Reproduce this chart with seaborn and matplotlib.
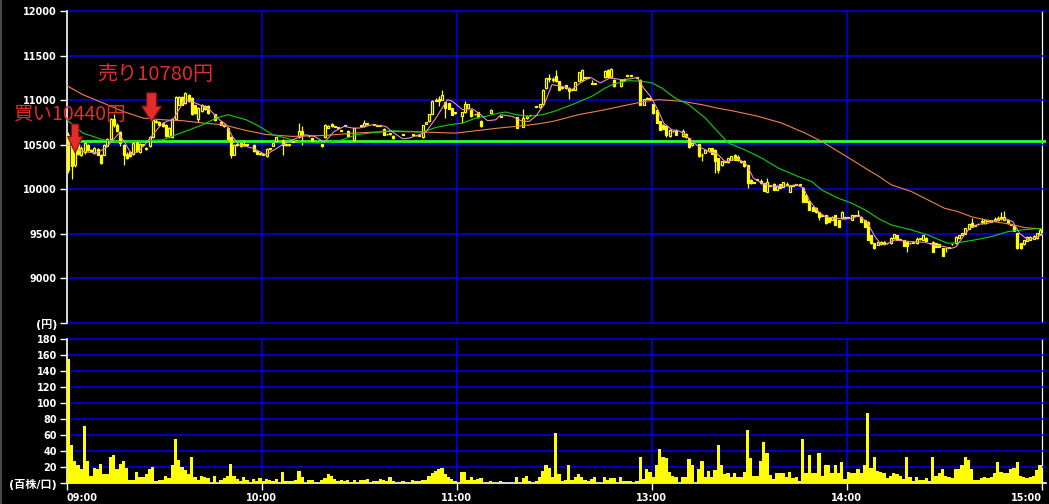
import numpy as np
import pandas as pd
import matplotlib
matplotlib.use('Agg')
import matplotlib.pyplot as plt
from matplotlib.lines import Line2D
import seaborn as sns

# 1-minute bars: index 0 = 09:00, 150 = 12:30 (lunch break removed), 299 = 14:59
opens = [
    10610, 10500, 10270, 10520, 10390, 10420, 10500, 10440, 10410, 10450,
    10390, 10390, 10490, 10560, 10790, 10720, 10640, 10500, 10400, 10420,
    10400, 10530, 10420, 10500, 10450, 10480, 10590, 10760, 10760, 10740,
    10720, 10600, 10590, 10790, 10950, 11040, 10970, 11060, 11020, 10940,
    10790, 10880, 10930, 10930, None, 10840, None, 10760, 10720, 10690,
    10590, 10390, 10500, 10520, 10500, 10505, None, 10500, 10425, 10400,
    10400, 10370, 10450, 10490, 10537, None, 10555, 10505, 10495, 10530,
    10540, 10582, 10649, None, 10593, 10574, None, None, 10507, 10582,
    10690, 10730, 10700, 10690, 10657, 10712, 10657, None, 10555, None,
    10717, 10705, 10730, None, 10724, 10712, 10710, 10679, 10615, 10619,
    10600, None, None, 10612, None, None, 10619, 10605, 10600, 10582,
    10732, 10762, 10844, 10990, 11013, 11005, 10975, 10968, 10912, 10855,
    None, 10818, 10867, 10912, 10893, 10840, 10867, 10769, None, None,
    10855, None, None, 10814, None, None, None, None, 10807, None,
    10699, 10800, 10829, None, 10927, 10920, 10957, 11136, 11240, 11240,
    11268, 11211, 11136, 11166, 11140, 11118, 11118, 11219, 11230, 11249,
    11250, 11181, 11185, None, None, 11256, 11343, 11256, 11230, None,
    11155, 11230, 11275, 11275, None, 11249, 11230, 10949, 11013, 11024,
    10957, 10893, 10762, 10724, 10712, 10593, 10650, 10668, None, 10593,
    10623, 10574, 10492, None, 10507, 10390, 10406, 10424, 10462, 10440,
    10349, 10267, 10310, 10304, 10331, 10387, 10360, 10319, 10319, 10274,
    10106, 10076, 10106, 10090, 10068, 9975, 10038, 10061, 9993, 10057,
    10031, 10050, 9975, 10042, 10050, 10050, 10020, 9937, 9873, 9806,
    9795, 9742, 9700, 9712, 9682, 9656, 9712, 9656, 9675, 9675,
    9682, 9656, 9700, 9701, 9693, 9656, 9637, 9487, 9394, 9375,
    9382, 9412, 9394, 9394, 9450, 9487, 9431, 9431, 9412, 9394,
    9400, 9394, 9440, 9431, 9457, 9394, 9412, 9394, 9382, 9337,
    9337, 9340, 9382, 9394, 9457, 9487, 9499, 9555, 9618, 9589,
    9607, 9637, 9618, 9648, 9637, 9667, 9650, 9682, 9656, 9656,
    9600, 9589, 9506, 9394, 9382, 9420, 9431, 9442, 9450, 9499,
]
highs = [
    10640, 10520, 10600, 10560, 10480, 10530, 10510, 10450, 10470, 10460,
    10400, 10510, 10570, 10800, 10850, 10740, 10650, 10510, 10420, 10430,
    10530, 10540, 10520, 10510, 10470, 10600, 10790, 10790, 10770, 10750,
    10730, 10700, 10800, 11050, 11050, 11050, 11090, 11070, 11030, 10950,
    10920, 10960, 10940, 10940, None, 10850, None, 10770, 10730, 10700,
    10600, 10510, 10520, 10530, 10555, 10510, None, 10510, 10430, 10410,
    10410, 10460, 10460, 10520, 10590, None, 10565, 10510, 10500, 10545,
    10545, 10745, 10705, None, 10600, 10580, None, None, 10510, 10730,
    10720, 10745, 10705, 10695, 10662, 10716, 10665, None, 10690, None,
    10720, 10773, 10735, None, 10728, 10716, 10714, 10685, 10620, 10625,
    10605, None, None, 10616, None, None, 10625, 10610, 10605, 10720,
    10760, 10850, 11000, 11024, 11043, 11118, 10980, 10972, 10915, 10860,
    None, 10865, 10994, 10960, 10897, 10845, 10870, 10772, None, None,
    10897, None, None, 10818, None, None, None, None, 10810, None,
    10900, 10830, 10833, None, 10931, 10960, 11120, 11250, 11298, 11260,
    11343, 11215, 11140, 11170, 11145, 11122, 11205, 11320, 11354, 11253,
    11254, 11230, 11190, None, None, 11335, 11348, 11358, 11235, None,
    11235, 11234, 11279, 11279, None, 11253, 11235, 11018, 11030, 11028,
    10962, 10897, 10766, 10728, 10716, 10672, 10655, 10672, None, 10679,
    10627, 10578, 10522, None, 10511, 10406, 10447, 10466, 10466, 10450,
    10353, 10316, 10314, 10353, 10372, 10391, 10387, 10323, 10323, 10278,
    10110, 10080, 10110, 10110, 10072, 10125, 10042, 10065, 10046, 10061,
    10084, 10080, 10046, 10046, 10054, 10054, 10024, 9941, 9877, 9810,
    9799, 9746, 9704, 9716, 9686, 9697, 9716, 9660, 9754, 9679,
    9686, 9716, 9704, 9768, 9697, 9660, 9641, 9491, 9398, 9409,
    9416, 9416, 9398, 9461, 9503, 9491, 9435, 9435, 9416, 9398,
    9404, 9469, 9444, 9491, 9461, 9398, 9416, 9398, 9386, 9341,
    9341, 9344, 9386, 9473, 9491, 9510, 9566, 9611, 9675, 9593,
    9611, 9675, 9660, 9652, 9660, 9693, 9700, 9750, 9757, 9660,
    9604, 9593, 9510, 9398, 9435, 9473, 9473, 9484, 9510, 9562,
]
lows = [
    10180, 10110, 10250, 10380, 10370, 10400, 10430, 10420, 10400, 10380,
    10280, 10380, 10480, 10550, 10700, 10640, 10480, 10270, 10340, 10360,
    10390, 10420, 10410, 10490, 10440, 10470, 10580, 10740, 10710, 10700,
    10590, 10570, 10570, 10780, 10940, 10940, 10960, 10980, 10830, 10850,
    10760, 10870, 10890, 10850, None, 10770, None, 10720, 10700, 10550,
    10350, 10380, 10480, 10470, 10480, 10490, None, 10420, 10395, 10390,
    10380, 10360, 10440, 10485, 10530, None, 10387, 10490, 10490, 10525,
    10535, 10575, 10500, None, 10588, 10540, None, None, 10478, 10575,
    10685, 10700, 10695, 10680, 10652, 10708, 10590, None, 10550, None,
    10700, 10700, 10725, None, 10720, 10708, 10706, 10610, 10610, 10612,
    10565, None, None, 10608, None, None, 10600, 10600, 10595, 10575,
    10728, 10755, 10840, 10985, 10930, 11000, 10799, 10900, 10835, 10850,
    None, 10743, 10860, 10908, 10815, 10835, 10805, 10700, None, None,
    10852, None, None, 10810, None, None, None, None, 10685, None,
    10695, 10790, 10825, None, 10923, 10915, 10950, 11130, 11200, 11200,
    11200, 11115, 11130, 11130, 11013, 11114, 11115, 11215, 11225, 11245,
    11246, 11177, 11180, None, None, 11250, 11250, 11252, 11150, None,
    11150, 11226, 11271, 11271, None, 11245, 10945, 10945, 11008, 11000,
    10850, 10740, 10664, 10675, 10582, 10589, 10645, 10608, None, 10589,
    10578, 10465, 10488, None, 10364, 10312, 10402, 10420, 10396, 10180,
    10181, 10263, 10306, 10300, 10327, 10327, 10320, 10300, 10252, 10020,
    10064, 10072, 10102, 10060, 9978, 9971, 10034, 9989, 9989, 10016,
    10027, 10040, 9971, 10036, 10046, 10046, 9858, 9858, 9764, 9753,
    9738, 9656, 9696, 9614, 9633, 9652, 9596, 9577, 9671, 9671,
    9678, 9652, 9696, 9697, 9633, 9577, 9427, 9390, 9333, 9371,
    9378, 9386, 9390, 9390, 9446, 9427, 9427, 9363, 9300, 9390,
    9396, 9390, 9436, 9427, 9416, 9390, 9296, 9352, 9352, 9251,
    9300, 9336, 9378, 9390, 9453, 9483, 9495, 9551, 9577, 9585,
    9603, 9607, 9614, 9644, 9633, 9641, 9640, 9656, 9652, 9614,
    9596, 9528, 9333, 9330, 9378, 9416, 9427, 9438, 9446, 9495,
]
closes = [
    10220, 10260, 10570, 10400, 10460, 10520, 10440, 10430, 10460, 10390,
    10290, 10500, 10560, 10790, 10720, 10650, 10520, 10380, 10350, 10370,
    10520, 10430, 10510, 10500, 10460, 10590, 10780, 10770, 10720, 10710,
    10600, 10690, 10790, 11040, 11040, 10950, 11080, 10990, 10840, 10860,
    10910, 10950, 10900, 10860, None, 10780, None, 10720, 10705, 10560,
    10390, 10500, 10510, 10480, 10505, 10500, None, 10425, 10400, 10398,
    10385, 10450, 10455, 10518, 10582, None, 10500, 10495, 10495, 10540,
    10540, 10657, 10612, None, 10593, 10544, None, None, 10481, 10724,
    10715, 10705, 10700, 10685, 10657, 10712, 10593, None, 10687, None,
    10705, 10743, 10730, None, 10724, 10712, 10710, 10612, 10615, 10619,
    10570, None, None, 10612, None, None, 10605, 10605, 10600, 10717,
    10755, 10844, 10994, 11005, 10987, 11055, 10912, 10904, 10837, 10855,
    None, 10862, 10957, 10957, 10818, 10840, 10807, 10705, None, None,
    10893, None, None, 10814, None, None, None, None, 10687, None,
    10799, 10825, 10829, None, 10927, 10957, 11118, 11249, 11238, 11230,
    11211, 11118, 11136, 11136, 11106, 11118, 11200, 11316, 11343, 11249,
    11250, 11181, 11185, None, None, 11331, 11256, 11354, 11155, None,
    11230, 11230, 11275, 11275, None, 11249, 10949, 11013, 11024, 11005,
    10855, 10743, 10668, 10679, 10612, 10668, 10650, 10612, None, 10649,
    10582, 10469, 10518, None, 10368, 10380, 10443, 10462, 10400, 10320,
    10218, 10312, 10310, 10349, 10368, 10331, 10331, 10304, 10256, 10068,
    10068, 10076, 10106, 10070, 9982, 10087, 10038, 9993, 10042, 10020,
    10080, 10060, 10042, 10040, 10050, 10050, 9862, 9862, 9768, 9757,
    9742, 9693, 9700, 9618, 9637, 9693, 9600, 9581, 9750, 9675,
    9682, 9712, 9700, 9701, 9637, 9581, 9431, 9394, 9337, 9405,
    9412, 9390, 9394, 9457, 9499, 9431, 9431, 9367, 9367, 9394,
    9400, 9442, 9440, 9487, 9420, 9394, 9300, 9356, 9356, 9255,
    9337, 9340, 9382, 9469, 9487, 9506, 9562, 9607, 9581, 9589,
    9607, 9637, 9656, 9648, 9656, 9645, 9680, 9682, 9693, 9618,
    9600, 9532, 9337, 9337, 9431, 9469, 9469, 9480, 9506, 9544,
]
# volume in units of 100 shares
volume = [
    155, 48, 28, 22, 18, 72, 28, 9, 19, 17,
    24, 11, 11, 33, 35, 18, 24, 28, 19, 4,
    4, 14, 8, 8, 11, 17, 20, 3, 4, 4,
    9, 6, 23, 55, 29, 20, 16, 11, 33, 8,
    4, 9, 7, 6, 0, 9, 0, 4, 6, 9,
    24, 9, 5, 3, 7, 4, 0, 5, 3, 6,
    3, 5, 4, 3, 5, 0, 14, 3, 3, 3,
    4, 15, 8, 0, 4, 4, 0, 0, 4, 6,
    11, 9, 5, 3, 4, 3, 4, 0, 4, 0,
    4, 4, 5, 0, 3, 3, 5, 4, 3, 7,
    3, 0, 0, 3, 0, 0, 4, 3, 3, 4,
    4, 9, 13, 15, 17, 19, 11, 8, 5, 3,
    0, 14, 14, 4, 8, 4, 5, 6, 0, 0,
    3, 0, 0, 3, 0, 0, 0, 0, 8, 0,
    6, 9, 3, 0, 3, 7, 15, 23, 19, 8,
    63, 11, 3, 4, 23, 4, 7, 11, 7, 4,
    3, 5, 7, 0, 0, 8, 4, 6, 6, 0,
    8, 3, 3, 3, 0, 3, 32, 5, 18, 14,
    8, 23, 42, 33, 31, 14, 9, 8, 0, 8,
    7, 30, 23, 0, 18, 28, 8, 15, 8, 16,
    48, 23, 11, 12, 7, 13, 8, 7, 14, 66,
    31, 9, 9, 28, 51, 37, 10, 5, 13, 13,
    13, 7, 14, 6, 8, 3, 55, 12, 35, 13,
    12, 38, 9, 23, 23, 13, 22, 12, 26, 5,
    14, 13, 13, 18, 13, 23, 88, 19, 32, 15,
    14, 12, 6, 9, 12, 11, 9, 5, 33, 7,
    3, 7, 4, 4, 6, 3, 33, 9, 12, 18,
    9, 7, 6, 18, 18, 23, 33, 29, 17, 4,
    4, 6, 7, 6, 7, 13, 26, 14, 13, 13,
    18, 19, 26, 9, 7, 6, 8, 9, 16, 23,
]

# moving average lines (minute position, price)
ma_short_t = [0, 5, 9, 12, 16, 18, 20, 22, 24, 26.5, 28.6, 30.7, 32.7, 34.8, 36.3, 38.4,
              42, 44, 47, 49, 51, 53, 57.2, 61.3, 66.4, 69.5, 73.6, 76.2, 79.3, 82.3,
              85.4, 88, 90, 94.1, 98.2, 100, 103.3, 105.4, 108.4, 110.5, 113.6, 117.1,
              118.7, 121.8, 124.8, 127.4, 129.5, 132, 133.6, 137.1, 140.2, 142.3, 144.3,
              146.9, 149.3, 152.4, 155.5, 158, 161.1, 164.2, 167.2, 170.8, 173.9, 175.5,
              177.5, 179.6, 181.6, 183.7, 186.2, 188.8, 191.4, 194.4, 197.5, 200.1, 202.6,
              206.7, 209.2, 211.3, 213.9, 217.4, 222.1, 224.6, 226.7, 228.7, 231.3, 233.3,
              236.4, 239, 241.6, 243.6, 246.2, 248.7, 250.3, 251.7, 254.7, 259.9, 264,
              267, 270.1, 272.2, 273.7, 275.8, 277.8, 280.4, 283.4, 286.5, 289.1, 291.1,
              293.2, 295.8, 297.8, 300]
ma_short = [10499, 10424, 10406, 10462, 10623, 10518, 10387, 10424, 10499, 10612, 10705,
            10762, 10780, 10912, 11005, 10987, 10930, 10893, 10780, 10730, 10593, 10499,
            10462, 10387, 10499, 10555, 10612, 10593, 10529, 10649, 10705, 10687, 10687,
            10724, 10705, 10649, 10567, 10574, 10612, 10642, 10799, 11005, 10987, 10893,
            10904, 10837, 10769, 10780, 10837, 10818, 10762, 10762, 10818, 10949, 11174,
            11155, 11118, 11193, 11256, 11193, 11249, 11230, 11241, 11256, 11136, 11043,
            10912, 10743, 10668, 10649, 10574, 10481, 10424, 10398, 10312, 10342, 10274,
            10125, 10068, 10031, 10038, 10050, 10012, 9862, 9750, 9693, 9675, 9667, 9675,
            9701, 9637, 9469, 9394, 9375, 9431, 9412, 9405, 9375, 9356, 9337, 9356, 9469,
            9562, 9607, 9618, 9656, 9667, 9637, 9506, 9431, 9457, 9487]

ma_mid_t = [0, 5, 11.2, 17.3, 23.5, 29.6, 33.7, 37.8, 41.9, 46, 49.6, 55.2, 59.3, 63.4,
            67.5, 71.6, 76.7, 80.8, 84.9, 89, 93.1, 99.5, 106.4, 109.5, 113.6, 117.7,
            121.8, 125.9, 129, 133, 135.1, 138.2, 142.3, 146.4, 150, 155.5, 161.6, 165.7,
            168.3, 172.9, 177, 180.1, 183.1, 187.2, 191.4, 196.5, 200.1, 203.6, 208.7,
            213.9, 219, 225.1, 229.2, 232.3, 237.4, 241.6, 245.7, 250, 253.7, 259.9, 265,
            268.6, 271.1, 274.2, 279.3, 284.5, 289.6, 293.7, 300]
ma_mid = [10780, 10630, 10555, 10529, 10544, 10555, 10612, 10668, 10724, 10799, 10837,
          10780, 10705, 10612, 10574, 10529, 10518, 10529, 10555, 10612, 10630, 10657,
          10649, 10642, 10694, 10724, 10743, 10799, 10818, 10855, 10867, 10837, 10818,
          10837, 10874, 10949, 11043, 11136, 11181, 11219, 11211, 11193, 11136, 11024,
          10949, 10799, 10655, 10518, 10443, 10349, 10237, 10143, 10087, 9993, 9900,
          9843, 9768, 9667, 9600, 9544, 9487, 9431, 9394, 9401, 9431, 9469, 9525, 9544,
          9562]

ma_long_t = [0, 5, 11.2, 17.3, 23.5, 29.6, 35.8, 41.9, 48.1, 55.2, 61.3, 69.5, 79.8, 88,
             99.5, 109.5, 119.7, 125.9, 133, 140.2, 145.4, 150, 157.5, 165.7, 172.9, 178,
             182.1, 189.3, 195.5, 200, 205.7, 212.8, 220, 227.2, 232.3, 237.4, 241.6,
             245.7, 250, 253.7, 259.9, 265, 270.1, 274.2, 278.3, 281.4, 285.5, 290.6,
             294.7, 300]
ma_long = [11163, 11061, 10968, 10874, 10799, 10780, 10769, 10743, 10724, 10660, 10615,
           10593, 10604, 10630, 10649, 10642, 10630, 10657, 10687, 10713, 10735, 10765,
           10837, 10893, 10949, 10987, 11005, 10987, 10949, 10912, 10874, 10818, 10743,
           10630, 10537, 10424, 10331, 10237, 10143, 10050, 9975, 9881, 9787, 9750, 9693,
           9667, 9637, 9607, 9570, 9555]

base_price = 10544  # thick green reference line
buy_price, sell_price = 10440, 10780

price_ticks = [8500, 9000, 9500, 10000, 10500, 11000, 11500, 12000]
price_labels = ['(円)', '9000', '9500', '10000', '10500', '11000', '11500', '12000']
vol_ticks = [0, 20, 40, 60, 80, 100, 120, 140, 160, 180]
vol_labels = ['(百株/口)', '20', '40', '60', '80', '100', '120', '140', '160', '180']
time_ticks = [0, 60, 120, 180, 240, 300]
time_labels = ['09:00', '10:00', '11:00', '13:00', '14:00', '15:00']

YELLOW = '#ffff00'
BLUE = '#0000f0'
PINK = '#e88ad2'
GREEN = '#10d010'
ORANGE = '#f08048'
RED = '#e32b2b'

sns.set_theme(style='dark', rc={'axes.facecolor': 'black', 'figure.facecolor': 'black',
                                'savefig.facecolor': 'black'})
plt.rcParams['font.family'] = ['DejaVu Sans', 'Noto Sans CJK JP']

W, H = 1049, 504
fig = plt.figure(figsize=(W / 100, H / 100), dpi=100)
left = 66.7 / W
width = (1046 - 66.7) / W
ax = fig.add_axes([left, 1 - 323 / H, width, (323 - 11) / H])
axv = fig.add_axes([left, 1 - 483 / H, width, (483 - 339.3) / H])
xmax = (1046 - 66.7) / 3.25

df = pd.DataFrame({'open': opens, 'high': highs, 'low': lows, 'close': closes,
                   'vol': volume}, dtype=float)
df['x'] = np.arange(len(df)) + 0.5

# candlesticks
c = df.dropna()
up = c[c.close >= c.open]
dn = c[c.close < c.open]
ax.vlines(c.x, c.low, c.high, color=YELLOW, lw=0.9, zorder=3)
ax.bar(up.x, np.maximum(up.close - up.open, 9), bottom=up.open, width=0.62,
       facecolor='black', edgecolor=YELLOW, lw=0.9, zorder=3.5)
ax.bar(dn.x, np.maximum(dn.open - dn.close, 9), bottom=dn.close, width=0.62,
       facecolor=YELLOW, edgecolor=YELLOW, lw=0.9, zorder=3.5)

# moving averages
sns.lineplot(x=ma_long_t, y=ma_long, ax=ax, color=ORANGE, linewidth=0.8, zorder=4)
sns.lineplot(x=ma_mid_t, y=ma_mid, ax=ax, color=GREEN, linewidth=0.8, zorder=4)
sns.lineplot(x=ma_short_t, y=ma_short, ax=ax, color=PINK, linewidth=0.8, zorder=4)
ax.axhline(base_price, color='#30ff30', lw=2.0, zorder=2)

# volume bars
sns.barplot(x=df.x, y=df.vol, native_scale=True, orient='x', width=1.0, color=YELLOW,
            saturation=1, linewidth=0, errorbar=None, ax=axv, zorder=3)

for a in (ax, axv):
    a.grid(False)
    a.set_xlim(0, xmax)
    a.set_xlabel('')
    a.set_ylabel('')
    for s in a.spines.values():
        s.set_visible(False)
    a.spines['left'].set_visible(True)
    a.spines['left'].set_color('white')
    a.spines['left'].set_linewidth(1.2)
    for t in time_ticks[1:-1]:
        a.axvline(t, color=BLUE, lw=1.1, zorder=1)
    a.axvline(300, color='white', lw=0.9, zorder=1)
    a.tick_params(axis='y', left=True, colors='white', length=5, width=1, pad=2)

ax.set_ylim(8500, 12000)
for v in price_ticks:
    ax.axhline(v, color=BLUE, lw=1.1, zorder=1, clip_on=False)
ax.set_xticks([])
ax.set_yticks(price_ticks)
ax.set_yticklabels(price_labels, fontsize=7, fontweight='bold', color='white')

axv.set_ylim(0, 180)
for v in vol_ticks[1:]:
    axv.axhline(v, color=BLUE, lw=1.1, zorder=1, clip_on=False)
axv.spines['bottom'].set_visible(True)
axv.spines['bottom'].set_color('white')
axv.spines['bottom'].set_linewidth(1.2)
axv.set_yticks(vol_ticks)
axv.set_yticklabels(vol_labels, fontsize=7, fontweight='bold', color='white')
axv.set_xticks(time_ticks)
axv.set_xticklabels(time_labels, fontsize=7, fontweight='bold', color='white')
axv.tick_params(axis='x', bottom=True, colors='white', length=5, width=1, pad=2)
xl = axv.get_xticklabels()
xl[0].set_ha('left')
xl[-1].set_ha('right')
for lbl in (ax.get_yticklabels()[0], axv.get_yticklabels()[0]):
    lbl.set_fontsize(8)

# trade markers
ax.arrow(2.6, buy_price + 292, 0, -325, width=2.3, head_width=4.6, head_length=185,
         length_includes_head=True, fc=RED, ec='#7a1010', lw=0.8, zorder=6)
ax.arrow(26.1, sell_price + 303, 0, -325, width=3.0, head_width=6.2, head_length=175,
         length_includes_head=True, fc=RED, ec='#7a1010', lw=0.8, zorder=6)
fig.text(13 / W, 1 - 114 / H, '買い10440円', color=RED, fontsize=14,
         family=['Noto Sans CJK JP', 'DejaVu Sans'], va='center', ha='left')
fig.text(97 / W, 1 - 75 / H, '売り10780円', color=RED, fontsize=14.5,
         family=['Noto Sans CJK JP', 'DejaVu Sans'], va='center', ha='left')

fig.add_artist(Line2D([0.0012, 0.0012], [0, 1], color='#4a4a4a', lw=1.5))

fig.savefig('out.png', dpi=100, facecolor='black')
